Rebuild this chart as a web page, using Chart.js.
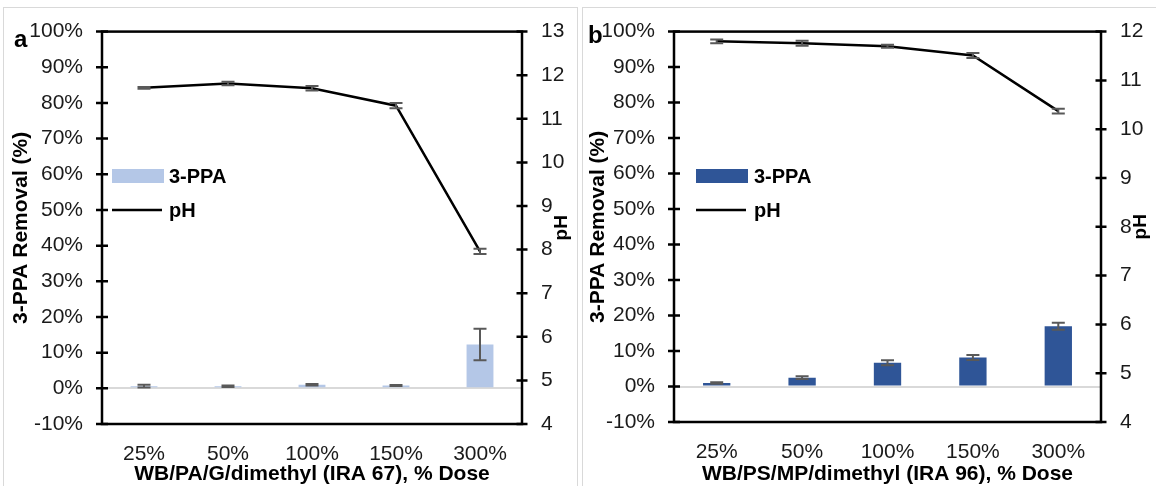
<!DOCTYPE html>
<html>
<head>
<meta charset="utf-8">
<script src="https://cdn.jsdelivr.net/npm/chart.js@4/dist/chart.umd.min.js"></script>
<style>
html, body { margin: 0; padding: 0; background: #fff; }
body { width: 1156px; height: 486px; position: relative; overflow: hidden; }
.panel { position: absolute; top: 0; width: 578px; height: 486px; }
.frame { position: absolute; top: 7px; height: 520px; border: 1px solid #d9d9d9; box-sizing: border-box; }
</style>
</head>
<body>
<div class="frame" style="left:3px;width:575px"></div>
<div class="frame" style="left:582px;width:590px"></div>
<div class="panel" style="left:0"><canvas id="chartA" width="578" height="486"></canvas></div>
<div class="panel" style="left:578px"><canvas id="chartB" width="578" height="486"></canvas></div>
<script>
const doses = ['25%', '50%', '100%', '150%', '300%'];

// panel a - IRA 67
const removalA = [0.6, 0.6, 1.0, 0.8, 12.3];
const removalErrA = [0.4, 0.2, 0.2, 0.15, 4.4];
const phA = [11.71, 11.81, 11.70, 11.30, 7.96];
const phErrA = [0.02, 0.04, 0.05, 0.06, 0.06];

// panel b - IRA 96
const removalB = [1.0, 2.5, 6.7, 8.2, 17.0];
const removalErrB = [0.2, 0.4, 0.7, 0.7, 1.0];
const phB = [11.80, 11.76, 11.70, 11.51, 10.37];
const phErrB = [0.04, 0.05, 0.03, 0.05, 0.05];

const removalMin = -10, removalMax = 100, removalStep = 10;
const phMinA = 4, phMaxA = 13;
const phMinB = 4, phMaxB = 12;

const FONT = '"Liberation Sans", Arial, sans-serif';
const TICK_SIZE = 21;

const panelDecor = {
    id: 'panelDecor',
    afterDatasetsDraw(chart, args, o) {
        const ctx = chart.ctx;
        ctx.save();
        ctx.strokeStyle = '#595959';
        ctx.lineWidth = 2;
        chart.data.datasets.forEach((ds, di) => {
            if (!ds.errors) return;
            const meta = chart.getDatasetMeta(di);
            const scale = chart.scales[ds.yAxisID];
            meta.data.forEach((el, i) => {
                const e = ds.errors[i];
                const x = el.x;
                const y1 = scale.getPixelForValue(ds.data[i] + e);
                const y2 = scale.getPixelForValue(ds.data[i] - e);
                ctx.beginPath();
                ctx.moveTo(x, y1); ctx.lineTo(x, y2);
                ctx.moveTo(x - 6.5, y1); ctx.lineTo(x + 6.5, y1);
                ctx.moveTo(x - 6.5, y2); ctx.lineTo(x + 6.5, y2);
                ctx.stroke();
            });
        });
        ctx.restore();
    },
    afterDraw(chart, args, o) {
        const ctx = chart.ctx;
        const a = chart.chartArea;
        ctx.save();
        // axis box
        ctx.strokeStyle = '#000';
        ctx.lineWidth = 2.5;
        ctx.strokeRect(a.left, a.top, a.right - a.left, a.bottom - a.top);
        ctx.beginPath();
        chart.scales.y.ticks.forEach(t => {
            const y = chart.scales.y.getPixelForValue(t.value);
            ctx.moveTo(a.left - 6, y); ctx.lineTo(a.left + 6, y);
        });
        chart.scales.y1.ticks.forEach(t => {
            const y = chart.scales.y1.getPixelForValue(t.value);
            ctx.moveTo(a.right - 5.5, y); ctx.lineTo(a.right + 5.5, y);
        });
        ctx.stroke();

        // titles
        ctx.fillStyle = '#000';
        const midY = (a.top + a.bottom) / 2;
        ctx.font = 'bold 21px ' + FONT;
        ctx.textAlign = 'center';
        ctx.textBaseline = 'middle';
        ctx.save();
        ctx.translate(o.yTitleX, midY);
        ctx.rotate(-Math.PI / 2);
        ctx.fillText('3-PPA Removal (%)', 0, 0);
        ctx.restore();
        ctx.save();
        ctx.translate(a.right + 39.5, midY);
        ctx.rotate(-Math.PI / 2);
        ctx.font = 'bold 19px ' + FONT;
        ctx.fillText('pH', 0, 0);
        ctx.restore();
        ctx.textBaseline = 'alphabetic';
        ctx.fillText(o.xTitle, (a.left + a.right) / 2, 480);

        // panel letter
        ctx.textAlign = 'left';
        ctx.font = 'bold 24px ' + FONT;
        ctx.fillText(o.letter, o.letterX, o.letterY);

        // legend
        const lg = o.legend;
        ctx.fillStyle = chart.data.datasets[1].backgroundColor;
        ctx.fillRect(lg.x, 169, lg.w, 14);
        ctx.strokeStyle = '#000';
        ctx.lineWidth = 2.5;
        ctx.beginPath();
        ctx.moveTo(lg.x, 210); ctx.lineTo(lg.x + lg.w - 2, 210);
        ctx.stroke();
        ctx.fillStyle = '#000';
        ctx.font = 'bold 20px ' + FONT;
        ctx.fillText(chart.data.datasets[1].label, lg.textX, 183);
        ctx.fillText(chart.data.datasets[0].label, lg.textX, 217);
        ctx.restore();
    }
};

function makePanel(id, cfg) {
    new Chart(document.getElementById(id), {
        type: 'bar',
        data: {
            labels: doses,
            datasets: [
                {
                    type: 'line', label: 'pH', data: cfg.ph, errors: cfg.phErr, yAxisID: 'y1',
                    borderColor: '#000', borderWidth: 2.5, pointRadius: 0, tension: 0, order: 0
                },
                {
                    type: 'bar', label: '3-PPA', data: cfg.removal, errors: cfg.removalErr, yAxisID: 'y',
                    backgroundColor: cfg.barColor, barPercentage: 0.32, categoryPercentage: 1.0, order: 1
                }
            ]
        },
        options: {
            responsive: false,
            animation: false,
            layout: { padding: { top: 19, left: 0, right: 0, bottom: 0 } },
            plugins: {
                legend: { display: false },
                tooltip: { enabled: false },
                panelDecor: cfg.decor
            },
            scales: {
                x: {
                    offset: true,
                    grid: { display: false },
                    border: { display: false },
                    ticks: { color: '#1a1a1a', font: { family: FONT, size: TICK_SIZE }, padding: 10 },
                    afterFit: s => { s.height = cfg.xHeight; }
                },
                y: {
                    position: 'left',
                    min: removalMin, max: removalMax,
                    ticks: {
                        stepSize: removalStep, color: '#1a1a1a', padding: 19,
                        font: { family: FONT, size: TICK_SIZE },
                        callback: v => Math.round(v) + '%'
                    },
                    grid: {
                        drawTicks: false,
                        lineWidth: 2,
                        color: c => (c.tick && c.tick.value === 0) ? '#d9d9d9' : 'rgba(0,0,0,0)'
                    },
                    border: { display: false },
                    afterFit: s => { s.width = cfg.leftWidth; }
                },
                y1: {
                    position: 'right',
                    min: cfg.phMin, max: cfg.phMax,
                    ticks: { stepSize: 1, color: '#1a1a1a', padding: 19, font: { family: FONT, size: TICK_SIZE } },
                    grid: { display: false, drawTicks: false },
                    border: { display: false },
                    afterFit: s => { s.width = cfg.rightWidth; }
                }
            }
        },
        plugins: [panelDecor]
    });
}

makePanel('chartA', {
    removal: removalA, removalErr: removalErrA, ph: phA, phErr: phErrA,
    barColor: '#b4c7e7', phMin: phMinA, phMax: phMaxA,
    leftWidth: 102, rightWidth: 56, xHeight: 62,
    decor: {
        letter: 'a', letterX: 14, letterY: 47, yTitleX: 21.5,
        xTitle: 'WB/PA/G/dimethyl (IRA 67), % Dose',
        legend: { x: 112, w: 52, textX: 169 }
    }
});

makePanel('chartB', {
    removal: removalB, removalErr: removalErrB, ph: phB, phErr: phErrB,
    barColor: '#2f5597', phMin: phMinB, phMax: phMaxB,
    leftWidth: 96, rightWidth: 55, xHeight: 64,
    decor: {
        letter: 'b', letterX: 10, letterY: 43, yTitleX: 20,
        xTitle: 'WB/PS/MP/dimethyl (IRA 96), % Dose',
        legend: { x: 118, w: 52, textX: 176 }
    }
});
</script>
</body>
</html>
